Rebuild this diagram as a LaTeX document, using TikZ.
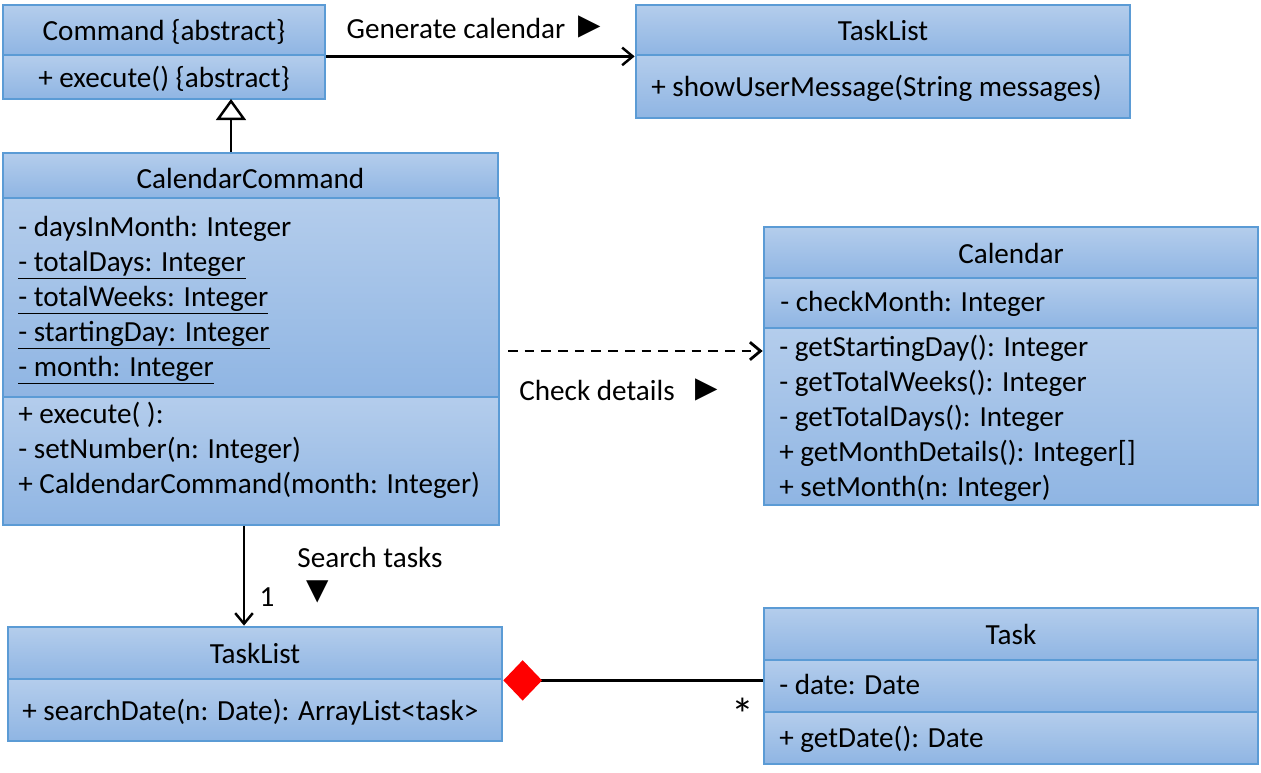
\documentclass[tikz,border=0pt]{standalone}
\usepackage{fontspec}
\setmainfont{Carlito}
\newfontfamily\symfont{DejaVu Sans}
\usetikzlibrary{arrows.meta}

\definecolor{boxline}{RGB}{91,155,213}
\definecolor{boxtop}{RGB}{180,205,236}
\definecolor{boxbot}{RGB}{143,181,227}

\newcommand{\umlfont}{\fontsize{16.6}{20}\selectfont}

\tikzset{
  umlpart/.style={draw=boxline, line width=1.6pt, top color=boxtop, bottom color=boxbot, inner sep=0pt, font=\umlfont, text height=12pt, text depth=0pt},
  member/.style={anchor=west, inner sep=0pt, font=\umlfont, text height=12pt, text depth=2.5pt},
  lbl/.style={inner sep=0pt, font=\umlfont},
  assoc/.style={line width=1.4pt, -{Straight Barb[length=6pt,width=10pt]}},
  inherit/.style={line width=1.4pt, -{Triangle[open,length=12pt,width=17pt]}},
  depend/.style={line width=1.6pt, dash pattern=on 5.5pt off 4pt, -{Straight Barb[length=6pt,width=10pt]}},
  compose/.style={line width=1.4pt, {Diamond[color=red,fill=red,length=22pt,width=23pt]}-}
}

\begin{document}
\begin{tikzpicture}[x=0.02cm, y=-0.02cm]
    \useasboundingbox (0,0) rectangle (1261,773);

    % Command
    \node [umlpart, minimum width=6.44cm, minimum height=1.0cm] (cmdh) at (164,30) {Command \{abstract\}};
    \node [umlpart, minimum width=6.44cm, minimum height=0.88cm] (cmdm) at (164,77) {+ execute() \{abstract\}};

    % TaskList (top)
    \node [umlpart, minimum width=9.88cm, minimum height=1.0cm] (tlh) at (883,30) {TaskList};
    \node [umlpart, minimum width=9.88cm, minimum height=1.26cm] (tlm) at (883,86.5) {};
    \node [member] (tlm1) at (651,88) {+ showUserMessage(String messages)};

    % CalendarCommand
    \node [umlpart, minimum width=9.9cm, minimum height=0.9cm, text height=15pt] (cch) at (250.5,175.5) {CalendarCommand};
    \node [umlpart, minimum width=9.92cm, minimum height=3.98cm] (cca) at (251,297.5) {};
    \node [umlpart, minimum width=9.92cm, minimum height=2.56cm] (ccm) at (251,461) {};
    \node [member] (cca1) at (18,228) {- daysInMonth: Integer};
    \node [member] (cca2) at (18,263) {\underline{- totalDays: Integer}};
    \node [member] (cca3) at (18,298) {\underline{- totalWeeks: Integer}};
    \node [member] (cca4) at (18,333) {\underline{- startingDay: Integer}};
    \node [member] (cca5) at (18,368) {\underline{- month: Integer}};
    \node [member] (ccm1) at (18,415) {+ execute( ):};
    \node [member] (ccm2) at (18,450) {- setNumber(n: Integer)};
    \node [member] (ccm3) at (18,485) {+ CaldendarCommand(month: Integer)};

    % Calendar
    \node [umlpart, minimum width=9.88cm, minimum height=1.02cm] (calh) at (1011,252.5) {Calendar};
    \node [umlpart, minimum width=9.88cm, minimum height=1.0cm] (cala) at (1011,303) {};
    \node [umlpart, minimum width=9.88cm, minimum height=3.54cm] (calm) at (1011,416.5) {};
    \node [member] (cala1) at (780,303) {- checkMonth: Integer};
    \node [member] (calm1) at (779,348) {- getStartingDay(): Integer};
    \node [member] (calm2) at (779,383) {- getTotalWeeks(): Integer};
    \node [member] (calm3) at (779,418) {- getTotalDays(): Integer};
    \node [member] (calm4) at (779,453) {+ getMonthDetails(): Integer[]};
    \node [member] (calm5) at (779,488) {+ setMonth(n: Integer)};

    % TaskList (bottom)
    \node [umlpart, minimum width=9.88cm, minimum height=1.04cm] (tlbh) at (255,653) {TaskList};
    \node [umlpart, minimum width=9.88cm, minimum height=1.24cm] (tlbm) at (255,710) {};
    \node [member] (tlbm1) at (22,712) {+ searchDate(n: Date): ArrayList<task>};

    % Task
    \node [umlpart, minimum width=9.88cm, minimum height=1.04cm] (taskh) at (1011,634) {Task};
    \node [umlpart, minimum width=9.88cm, minimum height=1.04cm] (taska) at (1011,686) {};
    \node [umlpart, minimum width=9.88cm, minimum height=1.04cm] (taskm) at (1011,738) {};
    \node [member] (taska1) at (779,686) {- date: Date};
    \node [member] (taskm1) at (779,739) {+ getDate(): Date};

    % connectors
    \coordinate (gen) at (231,99);
    \coordinate (chk) at (508,351);
    \coordinate (srch) at (244,525);
    \draw[assoc] (cmdh.south east) -- (tlh.south west);
    \draw[inherit] (cch.north -| gen) -- (gen);
    \draw[depend] (chk) -- (chk -| calm.west);
    \draw[assoc] (ccm.south -| srch) -- (tlbh.north -| srch);
    \draw[compose] (tlbh.south east) -- (tlbh.south east -| taska.west);

    % labels
    \node [lbl] (genlbl) at (456,28) {Generate calendar};
    \node [lbl] (genarr) at (590,27) {\symfont ▶};
    \node [lbl] (chklbl) at (597,390) {Check details};
    \node [lbl] (chkarr) at (707,390) {\symfont ▶};
    \node [lbl] (srchlbl) at (370,557) {Search tasks};
    \node [lbl] (srcharr) at (318,592) {\symfont ▼};
    \node [lbl] (one) at (267,597) {1};
    \node [lbl, font=\fontsize{26}{30}\selectfont] (many) at (743,714) {*};
\end{tikzpicture}
\end{document}
